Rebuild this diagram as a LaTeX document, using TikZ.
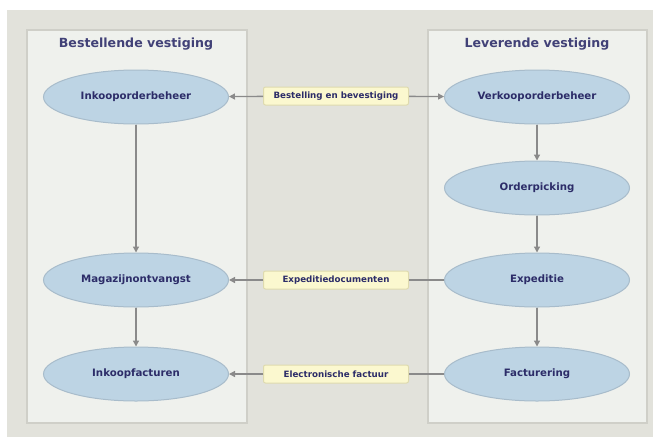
\documentclass[tikz,border=0pt]{standalone}
\usepackage{fontspec}
\setmainfont{DejaVu Sans}
\usepackage{tikz}
\usetikzlibrary{positioning, shapes.geometric, arrows.meta, backgrounds}
\definecolor{BackColor}{HTML}{E2E2DB}
\definecolor{PanelColor}{HTML}{EFF1ED}
\definecolor{PanelLine}{HTML}{CFCFC8}
\definecolor{TaskColor}{HTML}{BDD4E4}
\definecolor{TaskLine}{HTML}{A8BCCB}
\definecolor{MsgColor}{HTML}{FBF8CF}
\definecolor{MsgLine}{HTML}{DEDAAE}
\definecolor{TextColor}{HTML}{2C2C68}
\definecolor{FlowColor}{HTML}{8A8A8A}
\tikzset{
    panel/.style={
        rectangle,
        draw=PanelLine,
        fill=PanelColor,
        line width=1.5pt
    },
    title/.style={font=\bfseries\fontsize{12.6}{15}\selectfont, text=TextColor!90!white},
    task/.style={
        ellipse,
        minimum width=185pt,
        minimum height=54pt,
        draw=TaskLine,
        fill=TaskColor,
        line width=1pt,
        text=TextColor,
        font=\bfseries\fontsize{10.2}{12}\selectfont
    },
    msg/.style={
        rectangle,
        rounded corners=2pt,
        minimum width=145pt,
        minimum height=18pt,
        inner xsep=2pt,
        draw=MsgLine,
        fill=MsgColor,
        line width=1pt,
        text=TextColor,
        font=\bfseries\fontsize{8.7}{10}\selectfont
    },
    flow/.style={-{Triangle[length=6pt, width=6pt]}, draw=FlowColor, fill=FlowColor, line width=1.3pt},
    link/.style={draw=FlowColor, line width=1.3pt}
}

\begin{document}
\begin{tikzpicture}[x=1pt, y=-1pt]

% Background
\fill[white] (0,0) rectangle (655,437);
\fill[BackColor] (7,10) rectangle (653,437);
\useasboundingbox (0,0) rectangle (655,437);

% Panels
\draw[panel] (27,30) rectangle (247,423);
\draw[panel] (428,30) rectangle (647,423);
\node[title] (t_best) at (136,44) {Bestellende vestiging};
\node[title] (t_lev) at (537,44) {Leverende vestiging};

% Column 1
\node[task] (n_inkoop) at (136,97) {Inkooporderbeheer};
\node[task] (n_magazijn) at (136,280) {Magazijnontvangst};
\node[task] (n_factuur) at (136,374) {Inkoopfacturen};

% Column 2
\node[task] (n_verkoop) at (537,97) {Verkooporderbeheer};
\node[task] (n_pick) at (537,188) {Orderpicking};
\node[task] (n_exp) at (537,280) {Expeditie};
\node[task] (n_fact) at (537,374) {Facturering};

% Messages
\node[msg] (m_best) at (336,96) {Bestelling en bevestiging};
\node[msg] (m_exp) at (336,280) {Expeditiedocumenten};
\node[msg] (m_fact) at (336,374) {Electronische factuur};

% Arrows
\draw[flow] (n_inkoop) -- (n_magazijn);
\draw[flow] (n_magazijn) -- (n_factuur);
\draw[flow] (n_verkoop) -- (n_pick);
\draw[flow] (n_pick) -- (n_exp);
\draw[flow] (n_exp) -- (n_fact);

\draw[flow] (m_best) -- (n_inkoop);
\draw[flow] (m_best) -- (n_verkoop);
\draw[link] (n_exp) -- (m_exp);
\draw[flow] (m_exp) -- (n_magazijn);
\draw[link] (n_fact) -- (m_fact);
\draw[flow] (m_fact) -- (n_factuur);

\end{tikzpicture}
\end{document}
